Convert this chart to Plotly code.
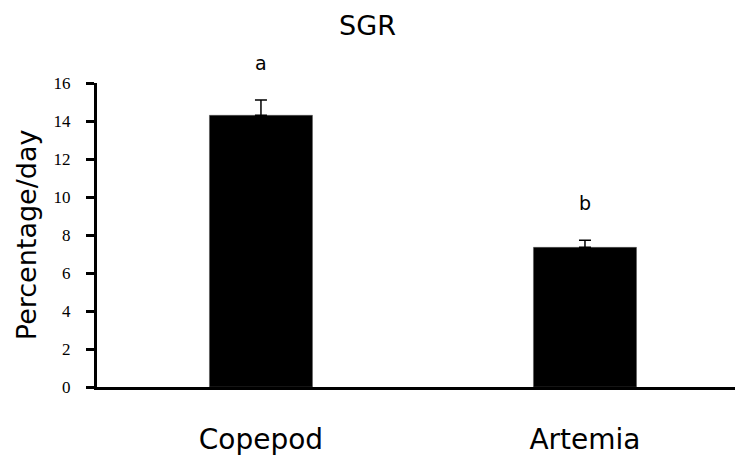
import plotly.graph_objects as go

categories = ["Copepod", "Artemia"]
sgr_values = [14.3, 7.35]
sgr_errors = [0.8, 0.38]
sig_letters = ["a", "b"]
y_ticks = [0, 2, 4, 6, 8, 10, 12, 14, 16]

xpos = list(range(len(categories)))
y_max = 16

fig = go.Figure()
fig.add_trace(go.Bar(
    x=xpos, y=sgr_values, width=0.318,
    marker=dict(color="black", line=dict(color="#555555", width=0.5)),
    error_y=dict(type="data", array=sgr_errors, arrayminus=[0] * len(sgr_errors),
                 symmetric=False, color="black", thickness=1.5, width=6),
    showlegend=False,
))

for x, v, e, t in zip(xpos, sgr_values, sgr_errors, sig_letters):
    fig.add_annotation(x=x, xref="x", y=(v + e + 1.95) / y_max, yref="paper",
                       text=t, showarrow=False, yanchor="middle",
                       font=dict(family="DejaVu Sans", size=19, color="black"))

fig.add_annotation(x=-0.111, xref="paper", y=0.5, yref="paper", text="Percentage/day",
                   textangle=-90, showarrow=False, xanchor="center", yanchor="middle",
                   font=dict(family="DejaVu Sans", size=27, color="black"))

fig.update_layout(
    width=735, height=457,
    margin=dict(l=97, r=0, t=83, b=70),
    paper_bgcolor="white", plot_bgcolor="white",
    title=dict(text="SGR", x=0.5, xanchor="center", y=1 - 26 / 457, yanchor="middle",
               font=dict(family="DejaVu Sans", size=27, color="black")),
    xaxis=dict(range=[-0.506, 1.463], tickvals=xpos, ticktext=categories,
               showline=True, linecolor="black", linewidth=3, ticks="",
               showgrid=False, zeroline=False, ticklabelstandoff=25, automargin=False,
               tickfont=dict(family="DejaVu Sans", size=28, color="black")),
    yaxis=dict(range=[0, y_max], tickvals=y_ticks, showline=True, linecolor="black",
               linewidth=3, ticks="outside", ticklen=8, tickwidth=3, tickcolor="black",
               showgrid=False, zeroline=False, automargin=False, ticklabelstandoff=12,
               tickfont=dict(family="Liberation Serif", size=17, color="black")),
)

fig.write_html("out.html", config={"displayModeBar": False},
               post_script="document.body.style.margin='0';document.body.style.padding='0';")
